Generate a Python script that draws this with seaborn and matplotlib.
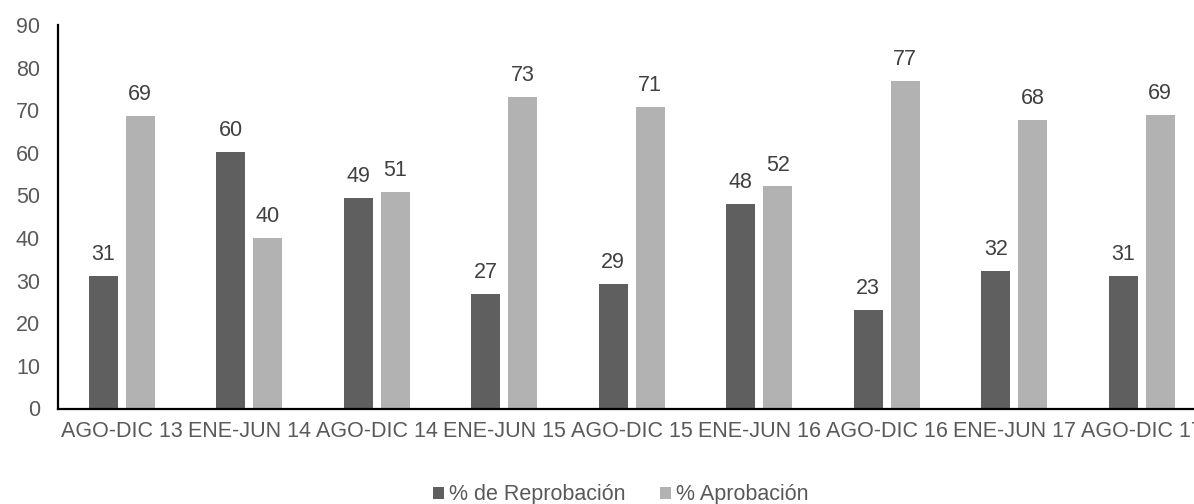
import matplotlib
matplotlib.use("Agg")
import matplotlib.pyplot as plt
import seaborn as sns
import pandas as pd
from matplotlib.patches import Patch

# Semesters and pass/fail percentages
periodos = ["AGO-DIC 13", "ENE-JUN 14", "AGO-DIC 14", "ENE-JUN 15", "AGO-DIC 15",
            "ENE-JUN 16", "AGO-DIC 16", "ENE-JUN 17", "AGO-DIC 17"]
reprobacion = [31.2, 60.1, 49.3, 26.9, 29.2, 47.9, 23.2, 32.3, 31.0]
aprobacion = [68.7, 40.0, 50.8, 73.0, 70.7, 52.1, 76.8, 67.7, 68.9]
series = ["% de Reprobación", "% Aprobación"]
colores = ["#5f5f5f", "#b2b2b2"]
y_ticks = list(range(0, 91, 10))

df = pd.DataFrame({
    "periodo": periodos * 2,
    "valor": reprobacion + aprobacion,
    "serie": [series[0]] * len(periodos) + [series[1]] * len(periodos),
})

sns.set_style("white")
plt.rcParams["font.family"] = ["Liberation Sans", "DejaVu Sans"]

fig = plt.figure(figsize=(11.94, 5.04), dpi=100)
# plot area runs past the right edge of the canvas
ax = fig.add_axes([58 / 1194, 95.5 / 504, 1147.5 / 1194, 383.5 / 504])

sns.barplot(data=df, x="periodo", y="valor", hue="serie", order=periodos,
            hue_order=series, palette=colores, width=0.58, gap=0.22,
            saturation=1, ax=ax, legend=False, edgecolor="none")

ax.set_xlim(-0.5, len(periodos) - 0.5)
ax.set_ylim(0, 90)
ax.set_yticks(y_ticks)
ax.set_xlabel("")
ax.set_ylabel("")
ax.tick_params(axis="both", length=0, labelsize=15.5, colors="#595959")
ax.tick_params(axis="y", pad=13)
ax.tick_params(axis="x", pad=9)

for side in ["top", "right"]:
    ax.spines[side].set_visible(False)
for side in ["left", "bottom"]:
    ax.spines[side].set_color("black")
    ax.spines[side].set_linewidth(1.6)

for cont in ax.containers:
    ax.bar_label(cont, fmt="%.0f", padding=11.5, fontsize=15.5, color="#404040")
for t in ax.texts:
    t.set_verticalalignment("baseline")

handles = [Patch(facecolor=c, edgecolor="none") for c in colores]
fig.legend(handles, series, loc="center", bbox_to_anchor=(0.52, 0.018),
           ncol=2, frameon=False, fontsize=15.5, labelcolor="#595959",
           handlelength=0.5, handleheight=0.5, handletextpad=0.25,
           columnspacing=1.6)

fig.savefig("out.png", dpi=100)
